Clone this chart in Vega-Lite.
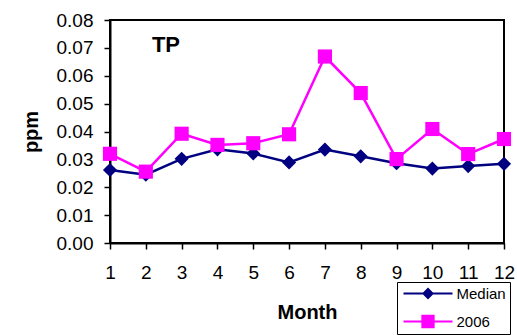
{
  "$schema": "https://vega.github.io/schema/vega-lite/v6.json",
  "width": 394,
  "height": 223,
  "autosize": {"type": "none"},
  "padding": {"left": 110, "top": 20, "right": 13, "bottom": 92},
  "background": "white",
  "config": {
    "font": "Liberation Sans",
    "view": {"stroke": "black", "strokeWidth": 2},
    "axis": {
      "grid": false,
      "labelOverlap": false,
      "domainColor": "black",
      "domainWidth": 2,
      "tickColor": "black",
      "tickWidth": 1.5,
      "tickSize": 6,
      "labelColor": "black",
      "labelFont": "Liberation Sans",
      "labelFontSize": 19,
      "titleColor": "black",
      "titleFont": "Liberation Sans",
      "titleFontSize": 20,
      "titleFontWeight": "bold"
    },
    "axisQuantitative": {"labelOverlap": false},
    "legend": {
      "orient": "none",
      "legendX": 287,
      "legendY": 262,
      "strokeColor": "black",
      "strokeWidth": 1,
      "fillColor": "white",
      "padding": 4,
      "symbolSize": 196,
      "symbolStrokeWidth": 0,
      "symbolOffset": 19.5,
      "labelOffset": 21,
      "labelFont": "Liberation Sans",
      "labelFontSize": 15,
      "labelColor": "black",
      "rowPadding": 12
    }
  },
  "data": {
    "values": [
      {"month": 1, "series": "Median", "ppm": 0.0262},
      {"month": 2, "series": "Median", "ppm": 0.0245},
      {"month": 3, "series": "Median", "ppm": 0.0302},
      {"month": 4, "series": "Median", "ppm": 0.0336},
      {"month": 5, "series": "Median", "ppm": 0.0321},
      {"month": 6, "series": "Median", "ppm": 0.0289},
      {"month": 7, "series": "Median", "ppm": 0.0335},
      {"month": 8, "series": "Median", "ppm": 0.0311},
      {"month": 9, "series": "Median", "ppm": 0.0286},
      {"month": 10, "series": "Median", "ppm": 0.0267},
      {"month": 11, "series": "Median", "ppm": 0.0276},
      {"month": 12, "series": "Median", "ppm": 0.0284},
      {"month": 1, "series": "2006", "ppm": 0.0320},
      {"month": 2, "series": "2006", "ppm": 0.0256},
      {"month": 3, "series": "2006", "ppm": 0.0392},
      {"month": 4, "series": "2006", "ppm": 0.0352},
      {"month": 5, "series": "2006", "ppm": 0.0358},
      {"month": 6, "series": "2006", "ppm": 0.0390},
      {"month": 7, "series": "2006", "ppm": 0.0669},
      {"month": 8, "series": "2006", "ppm": 0.0538},
      {"month": 9, "series": "2006", "ppm": 0.0301},
      {"month": 10, "series": "2006", "ppm": 0.0409},
      {"month": 11, "series": "2006", "ppm": 0.0319},
      {"month": 12, "series": "2006", "ppm": 0.0373}
    ]
  },
  "encoding": {
    "x": {
      "field": "month",
      "type": "quantitative",
      "scale": {"domain": [1, 12], "nice": false, "zero": false},
      "axis": {
        "values": [1, 2, 3, 4, 5, 6, 7, 8, 9, 10, 11, 12],
        "labelOverlap": false,
        "labelFlush": false,
        "title": "Month",
        "labelPadding": 14,
        "titlePadding": 20
      }
    },
    "y": {
      "field": "ppm",
      "type": "quantitative",
      "scale": {"domain": [0, 0.08], "nice": false},
      "axis": {
        "values": [0, 0.01, 0.02, 0.03, 0.04, 0.05, 0.06, 0.07, 0.08],
        "labelOverlap": false,
        "labelFlush": false,
        "format": ".2f",
        "title": "ppm",
        "labelPadding": 11,
        "titlePadding": 15
      }
    }
  },
  "layer": [
    {
      "mark": {"type": "line", "strokeWidth": 2.5},
      "encoding": {
        "color": {
          "field": "series",
          "type": "nominal",
          "sort": ["Median", "2006"],
          "scale": {"domain": ["Median", "2006"], "range": ["#000080", "#ff00ff"]},
          "legend": {
            "title": null,
            "encode": {
              "symbols": {
                "update": {
                  "shape": {"signal": "datum.value === 'Median' ? 'M-3.5,-0.16H3.5V0.16H-3.5Z M0,-0.85L0.85,0L0,0.85L-0.85,0Z' : 'M-3.5,-0.16H3.5V0.16H-3.5Z M-0.95,-0.95H0.95V0.95H-0.95Z'"},
                  "fill": {"signal": "datum.value === 'Median' ? '#000080' : '#ff00ff'"},
                  "stroke": {"value": "transparent"},
                  "opacity": {"value": 1},
                  "fillOpacity": {"value": 1}
                }
              }
            }
          }
        }
      }
    },
    {
      "mark": {"type": "point", "filled": true, "opacity": 1, "size": 200},
      "encoding": {
        "color": {
          "field": "series",
          "type": "nominal",
          "sort": ["Median", "2006"]
        },
        "shape": {
          "condition": {"test": "datum.series === 'Median'", "value": "diamond"},
          "value": "square"
        }
      }
    },
    {
      "data": {"values": [{"label": "TP", "month": 2.17, "ppm": 0.0685}]},
      "mark": {"type": "text", "align": "left", "baseline": "alphabetic", "font": "Liberation Sans", "fontSize": 22, "fontWeight": "bold", "color": "black"},
      "encoding": {
        "text": {"field": "label"}
      }
    }
  ]
}
